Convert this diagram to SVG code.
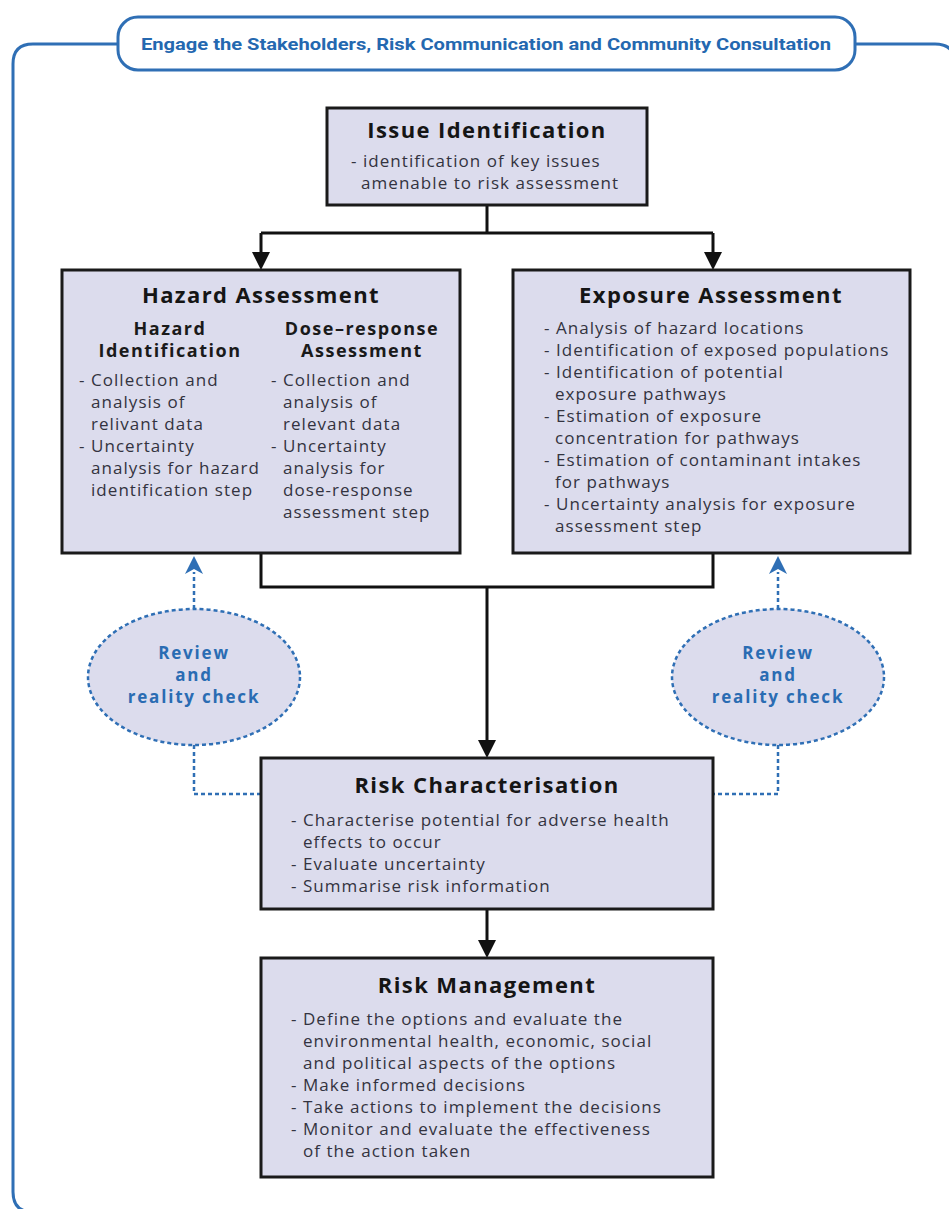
<svg xmlns="http://www.w3.org/2000/svg" width="949" height="1209" viewBox="0 0 949 1209">
<style>
.box{fill:#dcdced;stroke:#1a1a1a;stroke-width:3}
.title{font-family:"Open Sans",Lato,sans-serif;font-weight:bold;font-size:22px;letter-spacing:1.4px;fill:#151515;text-anchor:middle}
.sub{font-family:"Open Sans",Lato,sans-serif;font-weight:bold;font-size:18px;letter-spacing:1.5px;fill:#1a1a1a;text-anchor:middle}
.body{font-family:"Open Sans",Lato,sans-serif;font-size:17px;letter-spacing:1.05px;fill:#333340}
.conn{fill:none;stroke:#111;stroke-width:3}
.dash{fill:none;stroke:#2f6fb5;stroke-width:2.5;stroke-dasharray:4 3}
.ell{fill:#dcdced;stroke:#2f6fb5;stroke-width:2.5;stroke-dasharray:4 3}
.rv{font-family:"Open Sans",Lato,sans-serif;font-weight:bold;font-size:17px;letter-spacing:1.8px;fill:#2a6cb3;text-anchor:middle}
.frame{fill:none;stroke:#2f6fb5;stroke-width:3}
.ah{fill:#111}
.ahb{fill:#2f6fb5}
</style>
<g id="frame">
<path class="frame" d="M118,44 H33 Q13,44 13,64 V1192 Q13,1212 33,1212"/>
<path class="frame" d="M855,44 H935 Q955,44 955,64"/>
<rect x="118" y="17" width="737" height="53" rx="20" fill="#fff" stroke="#2f6fb5" stroke-width="3"/>
<text x="486" y="50" font-family="Roboto,'Open Sans',sans-serif" font-weight="bold" font-size="16" fill="#2468b0" text-anchor="middle" textLength="690" lengthAdjust="spacingAndGlyphs">Engage the Stakeholders, Risk Communication and Community Consultation</text>
</g>
<g id="connectors">
<path class="conn" d="M487,205 V233 M261,233 H713 M261,233 V254 M713,233 V254"/>
<path class="ah" d="M252,252 L270,252 L261,270 z M704,252 L722,252 L713,270 z"/>
<path class="conn" d="M261,553 V587 H713 V553 M487,587 V742"/>
<path class="ah" d="M478,740 L496,740 L487,758 z"/>
<path class="conn" d="M487,909 V942"/>
<path class="ah" d="M478,940 L496,940 L487,958 z"/>
<path class="dash" d="M194,609 V572"/>
<path class="ahb" d="M185,574 L194,556 L203,574 L194,569 z"/>
<path class="dash" d="M778,609 V572"/>
<path class="ahb" d="M769,574 L778,556 L787,574 L778,569 z"/>
<path class="dash" d="M194,745 V794 H261"/>
<path class="dash" d="M778,745 V794 H713"/>
</g>
<g id="issue">
<rect class="box" x="327" y="108" width="320" height="97"/>
<text class="title" x="487" y="138">Issue Identification</text>
<text class="body" x="351" y="167">- identification of key issues</text>
<text class="body" x="361" y="189">amenable to risk assessment</text>
</g>
<g id="hazard">
<rect class="box" x="62" y="270" width="398" height="283"/>
<text class="title" x="261" y="303">Hazard Assessment</text>
<text class="sub" x="170" y="335">Hazard</text>
<text class="sub" x="170" y="357">Identification</text>
<text class="sub" x="362" y="335">Dose–response</text>
<text class="sub" x="362" y="357">Assessment</text>
<text class="body" x="79" y="386">- Collection and</text>
<text class="body" x="91" y="408">analysis of</text>
<text class="body" x="91" y="430">relivant data</text>
<text class="body" x="79" y="452">- Uncertainty</text>
<text class="body" x="91" y="474">analysis for hazard</text>
<text class="body" x="91" y="496">identification step</text>
<text class="body" x="271" y="386">- Collection and</text>
<text class="body" x="283" y="408">analysis of</text>
<text class="body" x="283" y="430">relevant data</text>
<text class="body" x="271" y="452">- Uncertainty</text>
<text class="body" x="283" y="474">analysis for</text>
<text class="body" x="283" y="496">dose-response</text>
<text class="body" x="283" y="518">assessment step</text>
</g>
<g id="exposure">
<rect class="box" x="513" y="270" width="397" height="283"/>
<text class="title" x="711" y="303">Exposure Assessment</text>
<text class="body" x="544" y="334">- Analysis of hazard locations</text>
<text class="body" x="544" y="356">- Identification of exposed populations</text>
<text class="body" x="544" y="378">- Identification of potential</text>
<text class="body" x="555" y="400">exposure pathways</text>
<text class="body" x="544" y="422">- Estimation of exposure</text>
<text class="body" x="555" y="444">concentration for pathways</text>
<text class="body" x="544" y="466">- Estimation of contaminant intakes</text>
<text class="body" x="555" y="488">for pathways</text>
<text class="body" x="544" y="510">- Uncertainty analysis for exposure</text>
<text class="body" x="555" y="532">assessment step</text>
</g>
<g id="review-left">
<ellipse class="ell" cx="194" cy="677" rx="106" ry="68"/>
<text class="rv" x="194" y="659">Review</text>
<text class="rv" x="194" y="681">and</text>
<text class="rv" x="194" y="703">reality check</text>
</g>
<g id="review-right">
<ellipse class="ell" cx="778" cy="677" rx="106" ry="68"/>
<text class="rv" x="778" y="659">Review</text>
<text class="rv" x="778" y="681">and</text>
<text class="rv" x="778" y="703">reality check</text>
</g>
<g id="riskchar">
<rect class="box" x="261" y="758" width="452" height="151"/>
<text class="title" x="487" y="793">Risk Characterisation</text>
<text class="body" x="291" y="826">- Characterise potential for adverse health</text>
<text class="body" x="303" y="848">effects to occur</text>
<text class="body" x="291" y="870">- Evaluate uncertainty</text>
<text class="body" x="291" y="892">- Summarise risk information</text>
</g>
<g id="riskmgmt">
<rect class="box" x="261" y="958" width="452" height="219"/>
<text class="title" x="487" y="993">Risk Management</text>
<text class="body" x="291" y="1025">- Define the options and evaluate the</text>
<text class="body" x="303" y="1047">environmental health, economic, social</text>
<text class="body" x="303" y="1069">and political aspects of the options</text>
<text class="body" x="291" y="1091">- Make informed decisions</text>
<text class="body" x="291" y="1113">- Take actions to implement the decisions</text>
<text class="body" x="291" y="1135">- Monitor and evaluate the effectiveness</text>
<text class="body" x="303" y="1157">of the action taken</text>
</g>
</svg>
